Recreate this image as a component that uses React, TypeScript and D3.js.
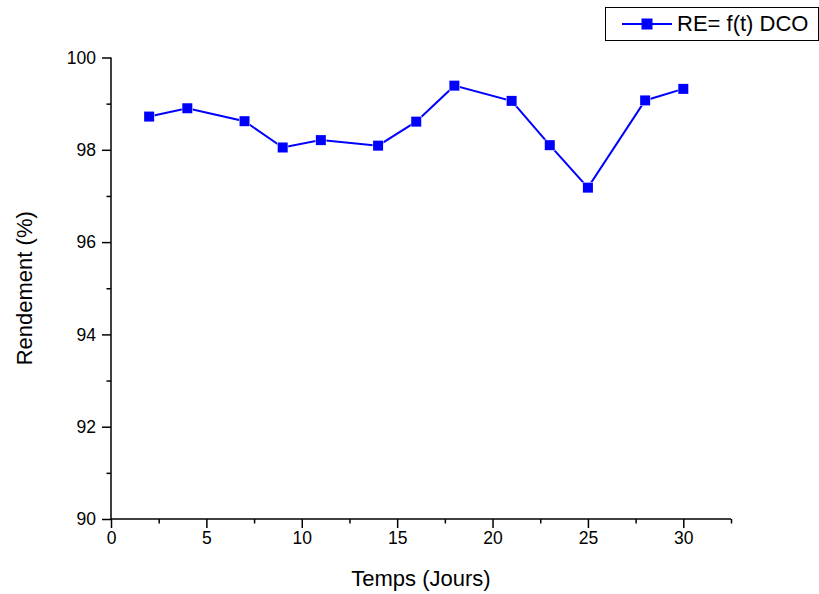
import React, { useEffect, useRef } from 'react'
import * as d3 from 'd3'

// jours de mesure et rendement DCO (%)
const days = [2, 4, 7, 9, 11, 14, 16, 18, 21, 23, 25, 28, 30]
const rendement = [98.72, 98.9, 98.62, 98.05, 98.21, 98.09, 98.61, 99.39, 99.06, 98.1, 97.18, 99.07, 99.32]
const xTicks = [0, 5, 10, 15, 20, 25, 30]
const yTicks = [90, 92, 94, 96, 98, 100]
const seriesName = 'RE= f(t) DCO'

const App = () => {
	const ref = useRef<SVGSVGElement>(null)

	useEffect(() => {
		const width = 819,
			height = 594
		const svg = d3.select(ref.current)
		svg.selectAll('*').remove()

		const x = d3.scaleLinear().domain([0, 32.5]).range([111, 731])
		const y = d3.scaleLinear().domain([90, 100]).range([519, 57.5])
		const font = 'Arial, "Liberation Sans", sans-serif'
		const blue = '#0000ff'

		// axe X
		const xAxis = svg.append('g').attr('transform', `translate(0,${y(90)})`)
		xAxis
			.call(
				d3
					.axisBottom(x)
					.tickValues(d3.range(0, 32.6, 2.5))
					.tickSize(9)
					.tickFormat(d => (xTicks.includes(+d) ? String(d) : ''))
			)
		xAxis.selectAll('.tick line').attr('y2', (d: any) => (xTicks.includes(d) ? 9 : 4.5))
		xAxis.select('.domain').attr('d', `M${x(0)},0H${x(32.5)}`)

		// axe Y
		const yAxis = svg.append('g').attr('transform', `translate(${x(0)},0)`)
		yAxis.call(
			d3
				.axisLeft(y)
				.tickValues(d3.range(90, 100.1, 1))
				.tickSize(9)
				.tickPadding(6)
				.tickFormat(d => (yTicks.includes(+d) ? String(d) : ''))
		)
		yAxis.selectAll('.tick line').attr('x2', (d: any) => (yTicks.includes(d) ? -9 : -4.5))
		yAxis.select('.domain').attr('d', `M0,${y(90)}V${y(100)}`)

		svg.selectAll('.domain, .tick line').attr('stroke', '#000').attr('stroke-width', 1.5)
		svg
			.selectAll('.tick text')
			.attr('font-family', font)
			.attr('font-size', 17.5)
			.attr('fill', '#000')
		xAxis.selectAll('.tick text').attr('dy', '0.71em').attr('y', 13)

		// titres
		svg
			.append('text')
			.attr('x', (x(0) + x(32.5)) / 2)
			.attr('y', 586)
			.attr('text-anchor', 'middle')
			.attr('font-family', font)
			.attr('font-size', 22)
			.text('Temps (Jours)')

		svg
			.append('text')
			.attr('transform', `translate(32,${(y(90) + y(100)) / 2}) rotate(-90)`)
			.attr('text-anchor', 'middle')
			.attr('font-family', font)
			.attr('font-size', 22)
			.text('Rendement (%)')

		// courbe
		const line = d3
			.line<number>()
			.x((d, i) => x(days[i]))
			.y(d => y(d))
		svg
			.append('path')
			.datum(rendement)
			.attr('d', line)
			.attr('fill', 'none')
			.attr('stroke', blue)
			.attr('stroke-width', 2)

		svg
			.selectAll('.pt')
			.data(rendement)
			.enter()
			.append('rect')
			.attr('class', 'pt')
			.attr('x', (d, i) => x(days[i]) - 5)
			.attr('y', d => y(d) - 5)
			.attr('width', 10)
			.attr('height', 10)
			.attr('fill', blue)
			.attr('stroke', '#fff')
			.attr('stroke-width', 1)
			.attr('paint-order', 'stroke')

		// légende
		const leg = svg.append('g')
		leg
			.append('rect')
			.attr('x', 605.5)
			.attr('y', 7.5)
			.attr('width', 213)
			.attr('height', 33)
			.attr('fill', '#fff')
			.attr('stroke', '#000')
			.attr('stroke-width', 1)
		leg
			.append('line')
			.attr('x1', 622)
			.attr('x2', 672)
			.attr('y1', 24)
			.attr('y2', 24)
			.attr('stroke', blue)
			.attr('stroke-width', 2)
		leg
			.append('rect')
			.attr('x', 641.5)
			.attr('y', 18.5)
			.attr('width', 11)
			.attr('height', 11)
			.attr('fill', blue)
		leg
			.append('text')
			.attr('x', 677)
			.attr('y', 31)
			.attr('font-family', font)
			.attr('font-size', 22)
			.text(seriesName)

		svg.attr('width', width).attr('height', height)
	}, [])

	return (
		<svg
			ref={ref}
			width={819}
			height={594}
			style={{ position: 'absolute', left: 0, top: 0, background: '#fff' }}
		></svg>
	)
}

export default App
